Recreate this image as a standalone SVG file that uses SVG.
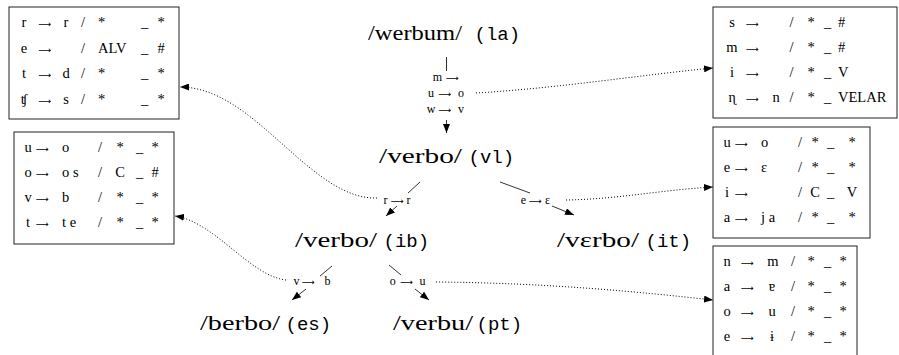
<svg xmlns="http://www.w3.org/2000/svg" width="899" height="355" viewBox="0 0 899 355">
<defs>
<marker id="ah" viewBox="0 0 9 7" refX="9" refY="3.5" markerWidth="9" markerHeight="7" markerUnits="userSpaceOnUse" orient="auto"><path d="M0,0 L9,3.5 L0,7 Z" fill="#000"/></marker>
<style>
.w{font-family:"Liberation Serif","DejaVu Serif",serif;font-size:22px;fill:#000}
.tt{font-family:"Liberation Mono","DejaVu Sans Mono",monospace;font-size:19px;fill:#000}
.s{font-family:"Liberation Serif","DejaVu Serif",serif;font-size:12px;fill:#000}
.t{font-family:"Liberation Serif","DejaVu Serif",serif;font-size:14.5px;fill:#000}
.ar{font-family:"DejaVu Sans",sans-serif;font-size:9px}
.m{text-anchor:middle}
.box{fill:#fff;stroke:#222;stroke-width:1}
.edge{fill:none;stroke:#000;stroke-width:0.8}
.dot{fill:none;stroke:#000;stroke-width:1;stroke-dasharray:1 2}
</style>
</defs>
<rect width="899" height="355" fill="#fff"/>

<g id="connectors">
  <line class="edge" x1="446.5" y1="57" x2="446.5" y2="71"/>
  <line class="edge" x1="446.5" y1="120" x2="446.5" y2="133" marker-end="url(#ah)"/>
  <line class="edge" x1="420" y1="182" x2="408" y2="193"/>
  <line class="edge" x1="397" y1="206" x2="386" y2="216" marker-end="url(#ah)"/>
  <line class="edge" x1="500" y1="182" x2="530" y2="193"/>
  <line class="edge" x1="552" y1="206" x2="574" y2="215" marker-end="url(#ah)"/>
  <line class="edge" x1="332" y1="266" x2="320" y2="276"/>
  <line class="edge" x1="306" y1="289" x2="292" y2="300" marker-end="url(#ah)"/>
  <line class="edge" x1="389" y1="265" x2="401" y2="275"/>
  <line class="edge" x1="415" y1="289" x2="429" y2="300" marker-end="url(#ah)"/>
  <path class="dot" d="M476,93 C560,88 640,75 713,68" marker-end="url(#ah)"/>
  <path class="dot" d="M377,198 C310,200 255,87 180,87" marker-end="url(#ah)"/>
  <path class="dot" d="M286,280 C250,276 215,222 175,216" marker-end="url(#ah)"/>
  <path class="dot" d="M566,200 C620,199 660,190 713,187" marker-end="url(#ah)"/>
  <path class="dot" d="M436,282 C550,283 640,292 713,300" marker-end="url(#ah)"/>
  <g id="edge-labels">
    <text class="s"><tspan class="m" x="437.5" y="81">m</tspan><tspan class="m ar" x="452.5" y="81">⟶</tspan></text>
    <text class="s"><tspan class="m" x="431" y="97">u</tspan><tspan class="m ar" x="445" y="97">⟶</tspan><tspan class="m" x="461" y="97">o</tspan></text>
    <text class="s"><tspan class="m" x="431" y="113">w</tspan><tspan class="m ar" x="445" y="113">⟶</tspan><tspan class="m" x="461" y="113">v</tspan></text>
    <text class="s"><tspan class="m" x="385.5" y="204">r</tspan><tspan class="m ar" x="397.5" y="204">⟶</tspan><tspan class="m" x="408.5" y="204">r</tspan></text>
    <text class="s"><tspan class="m" x="523.5" y="204">e</tspan><tspan class="m ar" x="535.5" y="204">⟶</tspan><tspan class="m" x="547.5" y="204">ɛ</tspan></text>
    <text class="s"><tspan class="m" x="296.5" y="285">v</tspan><tspan class="m ar" x="308.5" y="285">⟶</tspan><tspan class="m" x="327.5" y="285">b</tspan></text>
    <text class="s"><tspan class="m" x="392.7" y="285">o</tspan><tspan class="m ar" x="406.7" y="285">⟶</tspan><tspan class="m" x="422.5" y="285">u</tspan></text>
  </g>
</g>

<g id="la"><text class="w" x="368" y="40" textLength="94" lengthAdjust="spacingAndGlyphs">/werbum/</text><text class="tt" x="474.5" y="40">(la)</text></g>
<g id="vl"><text class="w" x="379" y="163" textLength="83" lengthAdjust="spacingAndGlyphs">/verbo/</text><text class="tt" x="468.5" y="163">(vl)</text></g>
<g id="ib"><text class="w" x="295" y="247" textLength="82" lengthAdjust="spacingAndGlyphs">/verbo/</text><text class="tt" x="383.5" y="247">(ib)</text></g>
<g id="it"><text class="w" x="557" y="247" textLength="82" lengthAdjust="spacingAndGlyphs">/vɛrbo/</text><text class="tt" x="645.5" y="247">(it)</text></g>
<g id="es"><text class="w" x="200" y="330" textLength="80" lengthAdjust="spacingAndGlyphs">/berbo/</text><text class="tt" x="285.5" y="330">(es)</text></g>
<g id="pt"><text class="w" x="393" y="330" textLength="80" lengthAdjust="spacingAndGlyphs">/verbu/</text><text class="tt" x="476.5" y="330">(pt)</text></g>

<g id="box-ib">
  <rect class="box" x="9" y="7" width="170" height="112"/>
  <text class="t"><tspan class="m" x="24" y="27">r</tspan><tspan class="m ar" x="45" y="27">⟶</tspan><tspan class="m" x="66" y="27">r</tspan><tspan class="m" x="83" y="27">/</tspan><tspan x="98" y="27">*</tspan><tspan class="m" x="144.5" y="27">_</tspan><tspan class="m" x="161" y="27">*</tspan></text>
  <text class="t"><tspan class="m" x="24" y="53">e</tspan><tspan class="m ar" x="45" y="53">⟶</tspan><tspan class="m" x="83" y="53">/</tspan><tspan x="98" y="53">ALV</tspan><tspan class="m" x="144.5" y="53">_</tspan><tspan class="m" x="161" y="53">#</tspan></text>
  <text class="t"><tspan class="m" x="24" y="78">t</tspan><tspan class="m ar" x="45" y="78">⟶</tspan><tspan class="m" x="66" y="78">d</tspan><tspan class="m" x="83" y="78">/</tspan><tspan x="98" y="78">*</tspan><tspan class="m" x="144.5" y="78">_</tspan><tspan class="m" x="161" y="78">*</tspan></text>
  <text class="t"><tspan class="m" x="24" y="104">ʧ</tspan><tspan class="m ar" x="45" y="104">⟶</tspan><tspan class="m" x="66" y="104">s</tspan><tspan class="m" x="83" y="104">/</tspan><tspan x="98" y="104">*</tspan><tspan class="m" x="144.5" y="104">_</tspan><tspan class="m" x="161" y="104">*</tspan></text>
</g>

<g id="box-es">
  <rect class="box" x="14" y="132" width="160" height="112"/>
  <text class="t"><tspan class="m" x="28" y="152">u</tspan><tspan class="m ar" x="42.5" y="152">⟶</tspan><tspan x="62" y="152">o</tspan><tspan class="m" x="100" y="152">/</tspan><tspan class="m" x="120" y="152">*</tspan><tspan class="m" x="139.5" y="152">_</tspan><tspan class="m" x="155" y="152">*</tspan></text>
  <text class="t"><tspan class="m" x="28" y="177">o</tspan><tspan class="m ar" x="42.5" y="177">⟶</tspan><tspan x="62" y="177">o s</tspan><tspan class="m" x="100" y="177">/</tspan><tspan class="m" x="120" y="177">C</tspan><tspan class="m" x="139.5" y="177">_</tspan><tspan class="m" x="155" y="177">#</tspan></text>
  <text class="t"><tspan class="m" x="28" y="202">v</tspan><tspan class="m ar" x="42.5" y="202">⟶</tspan><tspan x="62" y="202">b</tspan><tspan class="m" x="100" y="202">/</tspan><tspan class="m" x="120" y="202">*</tspan><tspan class="m" x="139.5" y="202">_</tspan><tspan class="m" x="155" y="202">*</tspan></text>
  <text class="t"><tspan class="m" x="28" y="227">t</tspan><tspan class="m ar" x="42.5" y="227">⟶</tspan><tspan x="62" y="227">t e</tspan><tspan class="m" x="100" y="227">/</tspan><tspan class="m" x="120" y="227">*</tspan><tspan class="m" x="139.5" y="227">_</tspan><tspan class="m" x="155" y="227">*</tspan></text>
</g>

<g id="box-vl">
  <rect class="box" x="713" y="7" width="184" height="111"/>
  <text class="t"><tspan class="m" x="732" y="27">s</tspan><tspan class="m ar" x="752.5" y="27">⟶</tspan><tspan class="m" x="791.5" y="27">/</tspan><tspan class="m" x="811" y="27">*</tspan><tspan class="m" x="827.5" y="27">_</tspan><tspan x="838" y="27">#</tspan></text>
  <text class="t"><tspan class="m" x="732" y="52">m</tspan><tspan class="m ar" x="752.5" y="52">⟶</tspan><tspan class="m" x="791.5" y="52">/</tspan><tspan class="m" x="811" y="52">*</tspan><tspan class="m" x="827.5" y="52">_</tspan><tspan x="838" y="52">#</tspan></text>
  <text class="t"><tspan class="m" x="732" y="77">i</tspan><tspan class="m ar" x="752.5" y="77">⟶</tspan><tspan class="m" x="791.5" y="77">/</tspan><tspan class="m" x="811" y="77">*</tspan><tspan class="m" x="827.5" y="77">_</tspan><tspan x="838" y="77">V</tspan></text>
  <text class="t"><tspan class="m" x="732" y="102">ɳ</tspan><tspan class="m ar" x="752.5" y="102">⟶</tspan><tspan class="m" x="776" y="102">n</tspan><tspan class="m" x="791.5" y="102">/</tspan><tspan class="m" x="811" y="102">*</tspan><tspan class="m" x="827.5" y="102">_</tspan><tspan x="838" y="102">VELAR</tspan></text>
</g>

<g id="box-it">
  <rect class="box" x="713" y="127" width="157" height="111"/>
  <text class="t"><tspan class="m" x="727" y="147">u</tspan><tspan class="m ar" x="741.5" y="147">⟶</tspan><tspan x="761" y="147">o</tspan><tspan class="m" x="800" y="147">/</tspan><tspan class="m" x="815" y="147">*</tspan><tspan class="m" x="830.5" y="147">_</tspan><tspan class="m" x="852" y="147">*</tspan></text>
  <text class="t"><tspan class="m" x="727" y="172">e</tspan><tspan class="m ar" x="741.5" y="172">⟶</tspan><tspan x="761" y="172">ɛ</tspan><tspan class="m" x="800" y="172">/</tspan><tspan class="m" x="815" y="172">*</tspan><tspan class="m" x="830.5" y="172">_</tspan><tspan class="m" x="852" y="172">*</tspan></text>
  <text class="t"><tspan class="m" x="727" y="197">i</tspan><tspan class="m ar" x="741.5" y="197">⟶</tspan><tspan class="m" x="800" y="197">/</tspan><tspan class="m" x="815" y="197">C</tspan><tspan class="m" x="830.5" y="197">_</tspan><tspan class="m" x="852" y="197">V</tspan></text>
  <text class="t"><tspan class="m" x="727" y="222">a</tspan><tspan class="m ar" x="741.5" y="222">⟶</tspan><tspan x="761" y="222">j a</tspan><tspan class="m" x="800" y="222">/</tspan><tspan class="m" x="815" y="222">*</tspan><tspan class="m" x="830.5" y="222">_</tspan><tspan class="m" x="852" y="222">*</tspan></text>
</g>

<g id="box-pt">
  <rect class="box" x="713" y="246" width="144" height="120"/>
  <text class="t"><tspan class="m" x="727" y="266">n</tspan><tspan class="m ar" x="747.5" y="266">⟶</tspan><tspan class="m" x="773" y="266">m</tspan><tspan class="m" x="793" y="266">/</tspan><tspan class="m" x="811" y="266">*</tspan><tspan class="m" x="827.5" y="266">_</tspan><tspan class="m" x="843" y="266">*</tspan></text>
  <text class="t"><tspan class="m" x="727" y="291">a</tspan><tspan class="m ar" x="747.5" y="291">⟶</tspan><tspan class="m" x="772" y="291">ɐ</tspan><tspan class="m" x="793" y="291">/</tspan><tspan class="m" x="811" y="291">*</tspan><tspan class="m" x="827.5" y="291">_</tspan><tspan class="m" x="843" y="291">*</tspan></text>
  <text class="t"><tspan class="m" x="727" y="316">o</tspan><tspan class="m ar" x="747.5" y="316">⟶</tspan><tspan class="m" x="772" y="316">u</tspan><tspan class="m" x="793" y="316">/</tspan><tspan class="m" x="811" y="316">*</tspan><tspan class="m" x="827.5" y="316">_</tspan><tspan class="m" x="843" y="316">*</tspan></text>
  <text class="t"><tspan class="m" x="727" y="341">e</tspan><tspan class="m ar" x="747.5" y="341">⟶</tspan><tspan class="m" x="772" y="341">ɨ</tspan><tspan class="m" x="793" y="341">/</tspan><tspan class="m" x="811" y="341">*</tspan><tspan class="m" x="827.5" y="341">_</tspan><tspan class="m" x="843" y="341">*</tspan></text>
</g>
</svg>
